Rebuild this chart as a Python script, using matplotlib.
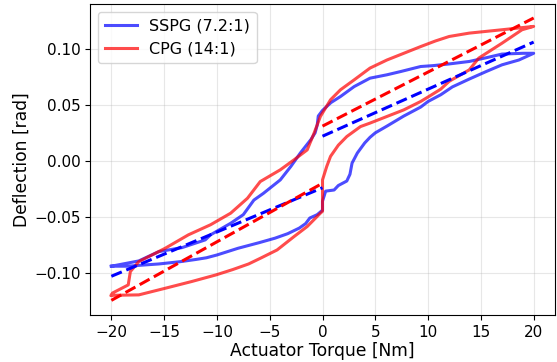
import matplotlib
matplotlib.use('Agg')
import matplotlib.pyplot as plt

# SSPG (7.2:1) hysteresis loop, traced in order
sspg_torque = [-20, -18.5, -17, -15.5, -13.5, -12, -11, -10, -8, -6, -4.5, -3.3, -2.2, -1.6, -1.2, -0.5, 0,
               0, 0.3, 1.1, 1.5, 2.3, 2.6, 2.8, 3.3, 4.0, 4.5, 5, 6.1, 7.7, 9.3, 10, 11.2, 12.3, 13.9, 15.5,
               17, 18.6, 20,
               19, 17, 15.5, 13.9, 12, 10.5, 9.3, 7.4, 6.1, 4.5, 3, 1.7, 0.8, 0, -0.4, -0.5, -0.7, -1.1, -2.1,
               -3, -4, -5.6, -6.5, -7.5, -8.7, -10.6, -11.1, -13.3, -15.5, -17.4, -20]
sspg_defl = [-0.094, -0.094, -0.093, -0.092, -0.090, -0.088, -0.0865, -0.084, -0.078, -0.073, -0.069, -0.065,
             -0.060, -0.056, -0.051, -0.048, -0.044,
             -0.036, -0.027, -0.026, -0.022, -0.018, -0.012, -0.002, 0.007, 0.016, 0.021, 0.025, 0.031, 0.040,
             0.048, 0.053, 0.059, 0.066, 0.073, 0.0797, 0.0857, 0.090, 0.096,
             0.096, 0.0953, 0.092, 0.0887, 0.0865, 0.085, 0.0842, 0.0797, 0.0768, 0.0738, 0.0663, 0.0574, 0.052,
             0.045, 0.040, 0.032, 0.025, 0.019, 0.007, -0.005, -0.017, -0.029, -0.035, -0.048, -0.0557, -0.066,
             -0.0705, -0.0774, -0.081, -0.0893, -0.094]

# CPG (14:1) hysteresis loop, traced in order
cpg_torque = [-20, -17.4, -14.9, -12.4, -10.1, -8.5, -7, -5.9, -4.3, -2.7, -1.45, -0.2, 0,
              0, 0.4, 0.76, 1.5, 2.3, 3.6, 4.5, 6.1, 7.7, 9.3, 10, 11.2, 12, 13.9, 14.8, 17, 18.9, 20,
              19, 17, 13.9, 12, 10.7, 9.3, 7.7, 6.1, 4.5, 3, 1.7, 0.76, -0.2, -0.8, -1.45, -2.7, -4, -5.9, -7.1,
              -8.7, -10.6, -12.7, -14.9, -17.4, -18.2, -18.4, -19.9, -20]
cpg_defl = [-0.120, -0.1196, -0.1137, -0.1077, -0.1018, -0.097, -0.092, -0.087, -0.0795, -0.0676, -0.0586,
            -0.0467, -0.045,
            -0.017, -0.005, 0.004, 0.014, 0.0217, 0.0306, 0.0337, 0.0396, 0.0455, 0.053, 0.057, 0.064, 0.071,
            0.0812, 0.0917, 0.105, 0.117, 0.120,
            0.119, 0.117, 0.114, 0.111, 0.107, 0.102, 0.096, 0.090, 0.0828, 0.0723, 0.0634, 0.0545, 0.0396,
            0.0247, 0.0098, 0.0009, -0.008, -0.0185, -0.0333, -0.0467, -0.057, -0.066, -0.078, -0.0899,
            -0.0988, -0.1107, -0.118, -0.120]

# linear fits, negative and positive torque halves
fit_neg_x = [-20, 0]
fit_pos_x = [0, 20]
sspg_fit_neg = [-0.103, -0.024]
sspg_fit_pos = [0.022, 0.106]
cpg_fit_neg = [-0.1245, -0.020]
cpg_fit_pos = [0.031, 0.1275]

fig = plt.figure(figsize=(5.57, 3.62), dpi=100)
ax = fig.add_axes([0.162, 0.130, 0.834, 0.859])

ax.plot(sspg_torque, sspg_defl, color='blue', alpha=0.7, lw=2.2, label='SSPG (7.2:1)')
ax.plot(cpg_torque, cpg_defl, color='red', alpha=0.7, lw=2.2, label='CPG (14:1)')
ax.plot(fit_neg_x, sspg_fit_neg, '--', color='blue', lw=2.2)
ax.plot(fit_pos_x, sspg_fit_pos, '--', color='blue', lw=2.2)
ax.plot(fit_neg_x, cpg_fit_neg, '--', color='red', lw=2.2)
ax.plot(fit_pos_x, cpg_fit_pos, '--', color='red', lw=2.2)

ax.set_xlim(-22, 22)
ax.set_ylim(-0.1375, 0.1400)
ax.set_xticks([-20, -15, -10, -5, 0, 5, 10, 15, 20])
ax.set_yticks([-0.10, -0.05, 0.00, 0.05, 0.10])
ax.grid(True, alpha=0.3)
ax.tick_params(labelsize=11)
ax.set_xlabel('Actuator Torque [Nm]', fontsize=12.3, labelpad=2)
ax.set_ylabel('Deflection [rad]', fontsize=12.3, labelpad=2)
ax.legend(loc='upper left', fontsize=11.5)

fig.savefig('out.png', dpi=100)
